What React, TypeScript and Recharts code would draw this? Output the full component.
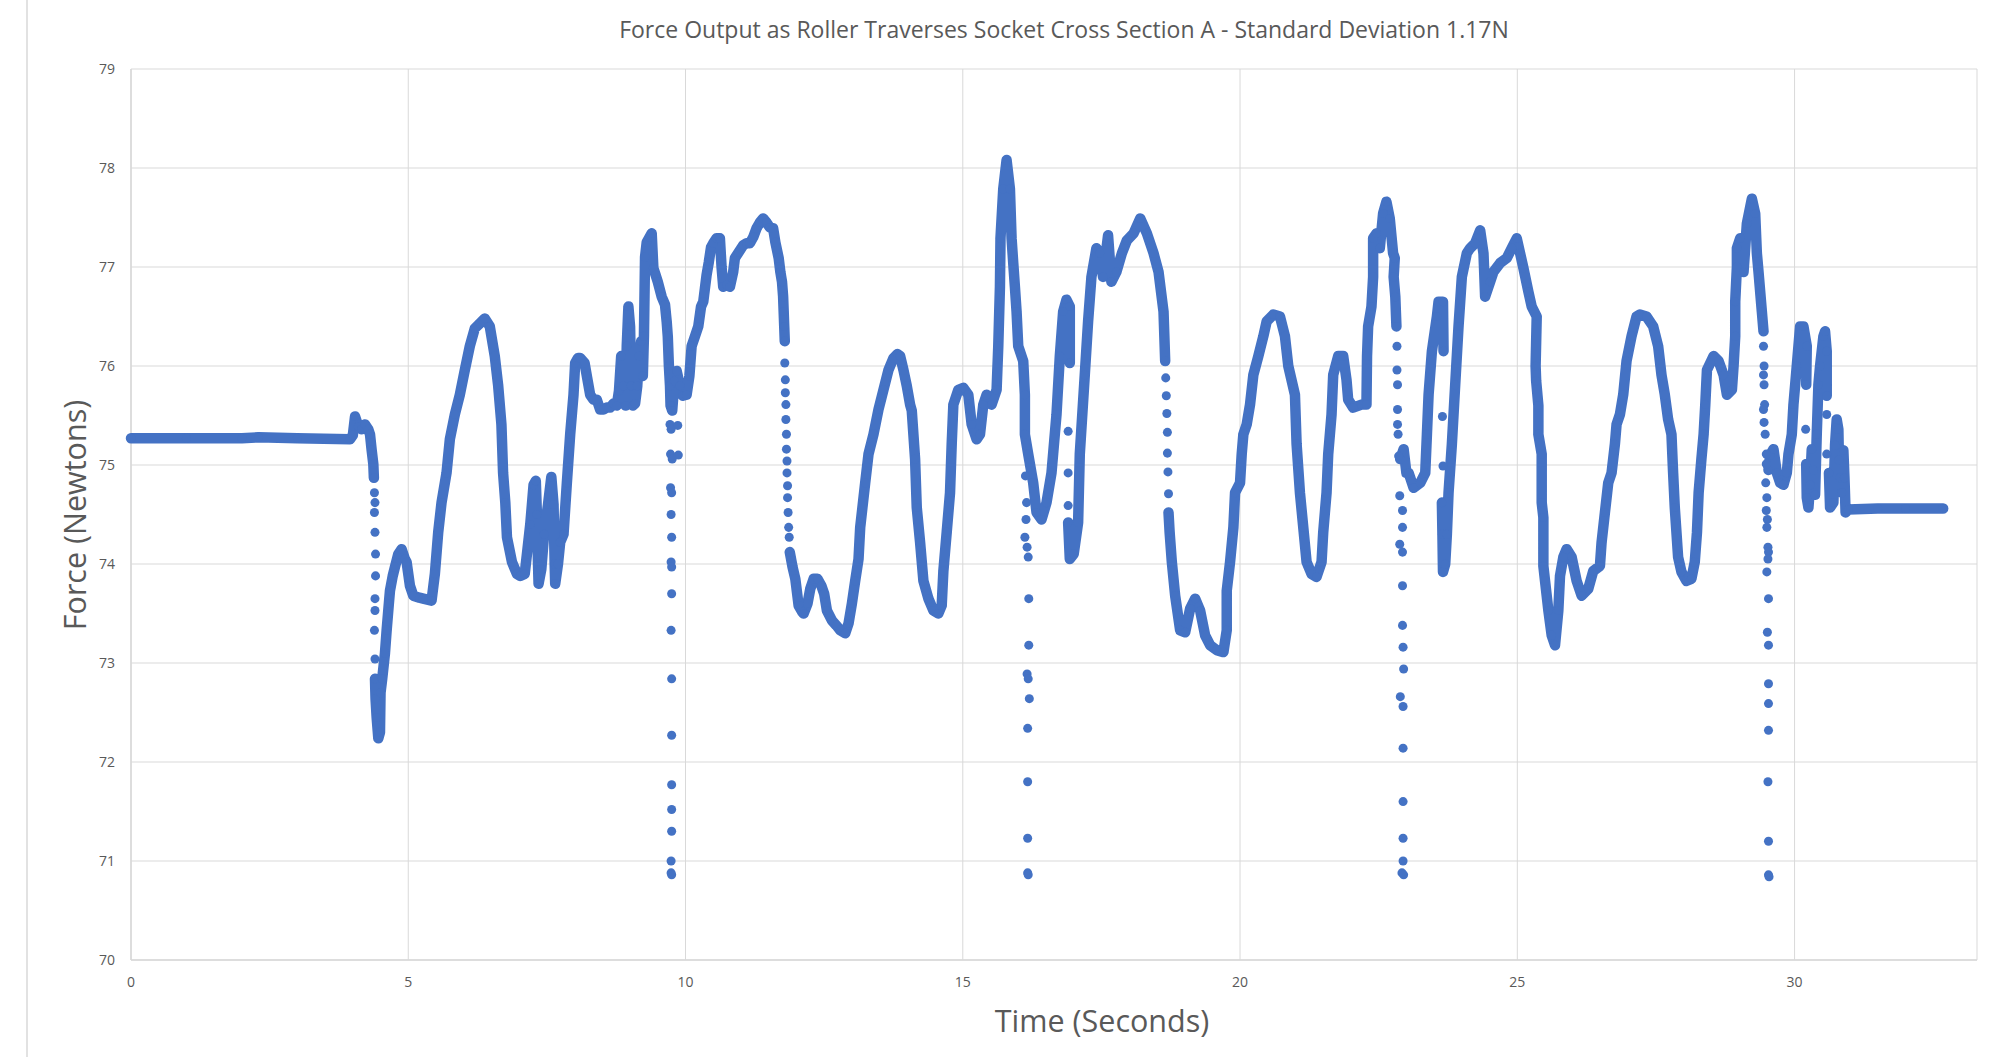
import React from 'react';
import { ScatterChart, Scatter, XAxis, YAxis, CartesianGrid, ZAxis } from 'recharts';

type Pt = [number, number];

const TITLE = 'Force Output as Roller Traverses Socket Cross Section A - Standard Deviation 1.17N';
const X_TITLE = 'Time (Seconds)';
const Y_TITLE = 'Force (Newtons)';
const X_TICKS = [0, 5, 10, 15, 20, 25, 30];
const Y_TICKS = [70, 71, 72, 73, 74, 75, 76, 77, 78, 79];
const X_DOMAIN: [number, number] = [0, 33.29];
const Y_DOMAIN: [number, number] = [70, 79];

// Continuous (densely sampled) stretches of the force trace: [time s, force N]
const traceA: Pt[] = [
  [0, 75.27], [1, 75.27], [2, 75.27], [2.3, 75.28], [3, 75.27], [3.95, 75.26], [4.0, 75.3], [4.04, 75.49],
  [4.1, 75.39], [4.16, 75.36], [4.22, 75.41], [4.28, 75.36], [4.31, 75.31], [4.34, 75.15], [4.37, 75.01], [4.38, 74.87],
];

const traceB: Pt[] = [
  [4.4, 72.84], [4.41, 72.64], [4.43, 72.45], [4.46, 72.24], [4.49, 72.3], [4.5, 72.7], [4.53, 72.84], [4.58, 73.1],
  [4.61, 73.33], [4.65, 73.6], [4.67, 73.73], [4.72, 73.88], [4.76, 73.97], [4.82, 74.1], [4.88, 74.15], [4.94, 74.05],
  [4.97, 74.02], [5.03, 73.78], [5.09, 73.68], [5.2, 73.66], [5.27, 73.65], [5.42, 73.63], [5.48, 73.9], [5.54, 74.32],
  [5.6, 74.62], [5.69, 74.92], [5.75, 75.26], [5.84, 75.51], [5.93, 75.71], [6.02, 75.96], [6.11, 76.2], [6.2, 76.38],
  [6.29, 76.43], [6.38, 76.48], [6.47, 76.4], [6.56, 76.1], [6.62, 75.81], [6.68, 75.41], [6.71, 74.92], [6.75, 74.62],
  [6.78, 74.27], [6.87, 74.02], [6.96, 73.9], [7.02, 73.88], [7.1, 73.9], [7.14, 74.1], [7.2, 74.4], [7.26, 74.8],
  [7.3, 74.84], [7.32, 74.5], [7.34, 74.0], [7.35, 73.8], [7.4, 73.95], [7.45, 74.3], [7.52, 74.6], [7.58, 74.88],
  [7.62, 74.6], [7.64, 74.0], [7.65, 73.8], [7.7, 74.0], [7.74, 74.22], [7.8, 74.3], [7.86, 74.82], [7.92, 75.31],
  [7.98, 75.71], [8.01, 76.03], [8.06, 76.08], [8.1, 76.08], [8.18, 76.03], [8.22, 75.9], [8.28, 75.71], [8.34, 75.66],
  [8.4, 75.66], [8.46, 75.56], [8.52, 75.56], [8.58, 75.58], [8.64, 75.58], [8.7, 75.62], [8.76, 75.6], [8.8, 75.75],
  [8.84, 76.1], [8.88, 75.8], [8.92, 75.6], [8.94, 76.2], [8.97, 76.6], [9.0, 76.4], [9.02, 75.8], [9.05, 75.6],
  [9.09, 75.62], [9.13, 75.8], [9.16, 76.1], [9.2, 76.25], [9.23, 75.9], [9.25, 76.3], [9.27, 77.1], [9.3, 77.25],
  [9.35, 77.3], [9.39, 77.34], [9.42, 76.99], [9.46, 76.92], [9.5, 76.85], [9.57, 76.7], [9.63, 76.62], [9.66, 76.45],
  [9.68, 76.3], [9.7, 76.0], [9.72, 75.8], [9.73, 75.6], [9.76, 75.55], [9.8, 75.85], [9.84, 75.95], [9.9, 75.8],
  [9.95, 75.7], [10.02, 75.71], [10.07, 75.9], [10.11, 76.2], [10.17, 76.3], [10.23, 76.4], [10.28, 76.6], [10.32, 76.65],
  [10.38, 76.92], [10.42, 77.05], [10.46, 77.2], [10.5, 77.24], [10.56, 77.29], [10.62, 77.29], [10.65, 77.0], [10.68, 76.8],
  [10.74, 76.82], [10.8, 76.8], [10.86, 76.95], [10.89, 77.09], [10.96, 77.15], [11.04, 77.22], [11.1, 77.24], [11.16, 77.24],
  [11.22, 77.3], [11.28, 77.39], [11.34, 77.45], [11.4, 77.49], [11.46, 77.45], [11.52, 77.4], [11.58, 77.39], [11.62, 77.25],
  [11.68, 77.09], [11.71, 76.95], [11.74, 76.85], [11.76, 76.7], [11.77, 76.55], [11.78, 76.4], [11.79, 76.25],
];

const traceC: Pt[] = [
  [11.88, 74.12], [11.93, 73.97], [11.98, 73.85], [12.04, 73.58], [12.1, 73.52], [12.13, 73.5], [12.2, 73.6], [12.25, 73.75],
  [12.31, 73.85], [12.38, 73.85], [12.45, 73.78], [12.5, 73.7], [12.55, 73.53], [12.64, 73.43], [12.72, 73.38], [12.79, 73.33],
  [12.88, 73.3], [12.94, 73.4], [13.0, 73.6], [13.06, 73.83], [13.12, 74.05], [13.15, 74.37], [13.24, 74.82], [13.3, 75.11],
  [13.39, 75.31], [13.48, 75.56], [13.57, 75.76], [13.66, 75.96], [13.75, 76.08], [13.82, 76.12], [13.87, 76.1], [13.93, 75.96],
  [13.99, 75.8], [14.05, 75.61], [14.08, 75.55], [14.14, 75.06], [14.17, 74.57], [14.23, 74.22], [14.29, 73.83], [14.38, 73.65],
  [14.47, 73.53], [14.56, 73.5], [14.62, 73.58], [14.65, 73.93], [14.71, 74.32], [14.77, 74.72], [14.8, 75.21], [14.83, 75.61],
  [14.92, 75.76], [15.01, 75.78], [15.1, 75.71], [15.16, 75.41], [15.25, 75.26], [15.31, 75.31], [15.37, 75.61], [15.43, 75.71],
  [15.52, 75.61], [15.61, 75.76], [15.64, 76.2], [15.67, 76.8], [15.68, 77.29], [15.73, 77.79], [15.79, 78.08], [15.85, 77.79],
  [15.88, 77.29], [15.91, 77.04], [15.94, 76.8], [15.97, 76.55], [16.0, 76.2], [16.09, 76.05], [16.12, 75.71], [16.12, 75.31],
  [16.18, 75.11], [16.27, 74.82], [16.33, 74.52], [16.42, 74.45], [16.51, 74.62], [16.6, 74.92], [16.69, 75.51], [16.75, 76.1],
  [16.81, 76.55], [16.87, 76.67], [16.93, 76.6], [16.93, 76.03],
];

const traceD: Pt[] = [
  [16.9, 74.42], [16.93, 74.05], [17.0, 74.1], [17.08, 74.42], [17.11, 75.11], [17.2, 75.91], [17.26, 76.45], [17.32, 76.9],
  [17.41, 77.19], [17.47, 77.14], [17.53, 76.9], [17.62, 77.32], [17.68, 76.85], [17.77, 76.95], [17.87, 77.14], [17.96, 77.27],
  [18.08, 77.34], [18.2, 77.49], [18.32, 77.34], [18.44, 77.14], [18.53, 76.95], [18.62, 76.55], [18.65, 76.05],
];

const traceE: Pt[] = [
  [18.71, 74.52], [18.73, 74.32], [18.77, 74.02], [18.83, 73.68], [18.92, 73.33], [19.01, 73.31], [19.1, 73.55], [19.19, 73.65],
  [19.28, 73.53], [19.37, 73.28], [19.46, 73.18], [19.58, 73.13], [19.7, 73.11], [19.76, 73.33], [19.76, 73.73], [19.82, 74.02],
  [19.88, 74.37], [19.91, 74.72], [20.0, 74.82], [20.03, 75.11], [20.06, 75.31], [20.12, 75.41], [20.18, 75.61], [20.24, 75.91],
  [20.33, 76.1], [20.42, 76.3], [20.48, 76.45], [20.6, 76.52], [20.72, 76.5], [20.81, 76.3], [20.87, 76.0], [20.99, 75.71],
  [21.02, 75.21], [21.08, 74.72], [21.14, 74.37], [21.2, 74.02], [21.29, 73.9], [21.38, 73.87], [21.47, 74.02], [21.5, 74.32],
  [21.56, 74.72], [21.59, 75.11], [21.65, 75.51], [21.68, 75.91], [21.77, 76.1], [21.86, 76.1], [21.92, 75.86], [21.95, 75.66],
  [22.04, 75.58], [22.19, 75.61], [22.28, 75.61], [22.29, 76.1], [22.31, 76.4], [22.37, 76.6], [22.4, 76.9], [22.4, 77.29],
  [22.46, 77.34], [22.52, 77.19], [22.58, 77.54], [22.64, 77.66], [22.7, 77.49], [22.76, 77.14], [22.79, 77.09], [22.77, 76.9],
  [22.8, 76.7], [22.82, 76.4],
];

const traceF: Pt[] = [
  [22.89, 75.06], [22.95, 75.16], [23.0, 74.92], [23.04, 74.92], [23.13, 74.77], [23.25, 74.82], [23.34, 74.92], [23.37, 75.31],
  [23.4, 75.71], [23.46, 76.15], [23.55, 76.5], [23.58, 76.65], [23.66, 76.65], [23.67, 76.15],
];

const traceG: Pt[] = [
  [23.64, 74.62], [23.65, 74.3], [23.66, 73.92], [23.7, 74.0], [23.73, 74.3], [23.76, 74.72], [23.82, 75.21], [23.88, 75.81],
  [23.94, 76.4], [24.0, 76.9], [24.09, 77.14], [24.15, 77.19], [24.24, 77.24], [24.33, 77.37], [24.39, 77.14], [24.42, 76.7],
  [24.51, 76.85], [24.57, 76.95], [24.69, 77.04], [24.81, 77.09], [24.9, 77.19], [24.99, 77.29], [25.05, 77.14], [25.11, 76.99],
  [25.2, 76.75], [25.26, 76.6], [25.35, 76.5], [25.33, 76.0], [25.34, 75.85], [25.38, 75.6], [25.38, 75.31], [25.44, 75.11],
  [25.44, 74.62], [25.47, 74.47], [25.47, 73.98], [25.5, 73.83], [25.56, 73.53], [25.62, 73.28], [25.68, 73.18], [25.74, 73.53],
  [25.77, 73.88], [25.83, 74.07], [25.89, 74.15], [25.98, 74.07], [26.07, 73.83], [26.16, 73.68], [26.28, 73.75], [26.37, 73.93],
  [26.49, 73.98], [26.52, 74.22], [26.58, 74.52], [26.64, 74.82], [26.7, 74.92], [26.76, 75.21], [26.79, 75.41], [26.85, 75.51],
  [26.91, 75.71], [26.97, 76.05], [27.06, 76.3], [27.15, 76.5], [27.21, 76.52], [27.33, 76.5], [27.45, 76.4], [27.54, 76.2],
  [27.6, 75.91], [27.66, 75.71], [27.72, 75.46], [27.78, 75.31], [27.81, 74.92], [27.84, 74.57], [27.9, 74.07], [27.96, 73.92],
  [28.05, 73.83], [28.14, 73.85], [28.2, 74.02], [28.24, 74.32], [28.27, 74.72], [28.32, 75.06], [28.36, 75.31], [28.39, 75.61],
  [28.42, 75.96], [28.54, 76.1], [28.63, 76.05], [28.72, 75.91], [28.78, 75.71], [28.87, 75.76], [28.9, 76.0], [28.93, 76.3],
  [28.93, 76.65], [28.96, 77.0], [28.96, 77.19], [29.02, 77.29], [29.08, 76.95], [29.14, 77.44], [29.23, 77.69], [29.29, 77.54],
  [29.32, 77.14], [29.35, 76.95], [29.41, 76.55], [29.44, 76.35],
];

const traceH: Pt[] = [
  [29.53, 74.95], [29.56, 75.1], [29.62, 75.16], [29.68, 74.92], [29.74, 74.82], [29.8, 74.8], [29.86, 74.92], [29.89, 75.11],
  [29.95, 75.31], [29.98, 75.61], [30.04, 76.0], [30.1, 76.4], [30.16, 76.4], [30.22, 76.2], [30.21, 75.81],
];

const traceI: Pt[] = [
  [30.21, 75.01], [30.22, 74.67], [30.25, 74.57], [30.28, 74.8], [30.31, 75.16], [30.34, 74.95], [30.37, 74.7], [30.4, 75.31],
  [30.43, 75.81], [30.46, 76.0], [30.52, 76.3], [30.55, 76.35], [30.58, 76.15], [30.58, 75.7],
];

const traceJ: Pt[] = [
  [30.62, 74.92], [30.64, 74.57], [30.7, 74.62], [30.73, 75.2], [30.76, 75.46], [30.79, 75.36], [30.8, 75.05], [30.82, 74.87],
  [30.85, 74.72], [30.88, 75.15], [30.9, 74.87], [30.92, 74.52], [30.97, 74.55], [31.5, 74.56], [32.0, 74.56], [32.68, 74.56],
];

// Individually visible samples where the force changes fast (the sharp drops)
const dropDots: Pt[] = [
  [4.39, 74.72], [4.4, 74.62], [4.39, 74.52], [4.4, 74.32], [4.41, 74.1], [4.41, 73.88], [4.4, 73.65], [4.4, 73.53],
  [4.39, 73.33], [4.4, 73.04],
  [9.72, 75.41], [9.74, 75.36], [9.73, 75.11], [9.76, 75.06], [9.73, 74.77], [9.75, 74.72], [9.74, 74.5], [9.75, 74.27],
  [9.74, 74.02], [9.75, 73.97], [9.75, 73.7], [9.74, 73.33], [9.75, 72.84], [9.75, 72.27], [9.75, 71.77], [9.75, 71.52],
  [9.75, 71.3], [9.74, 71.0], [9.74, 70.88], [9.75, 70.86], [9.86, 75.4], [9.87, 75.1],
  [11.79, 76.03], [11.8, 75.86], [11.8, 75.73], [11.81, 75.61], [11.81, 75.46], [11.82, 75.31], [11.82, 75.16], [11.83, 75.04],
  [11.83, 74.92], [11.84, 74.79], [11.84, 74.67], [11.85, 74.52], [11.86, 74.37], [11.87, 74.27],
  [16.13, 74.89], [16.15, 74.62], [16.14, 74.45], [16.12, 74.27], [16.16, 74.17], [16.18, 74.07], [16.19, 73.65], [16.19, 73.18],
  [16.16, 72.89], [16.18, 72.84], [16.2, 72.64], [16.17, 72.34], [16.17, 71.8], [16.17, 71.23], [16.17, 70.88], [16.18, 70.86],
  [16.9, 75.34], [16.9, 74.92], [16.9, 74.59],
  [18.66, 75.88], [18.67, 75.7], [18.68, 75.52], [18.69, 75.33], [18.69, 75.12], [18.7, 74.93], [18.71, 74.71],
  [22.83, 76.2], [22.83, 75.96], [22.84, 75.81], [22.84, 75.56], [22.84, 75.41], [22.85, 75.31], [22.86, 75.09], [22.88, 74.69],
  [22.93, 74.54], [22.93, 74.37], [22.88, 74.2], [22.93, 74.12], [22.93, 73.78], [22.93, 73.38], [22.94, 73.16], [22.95, 72.94],
  [22.89, 72.66], [22.94, 72.56], [22.94, 72.14], [22.94, 71.6], [22.94, 71.23], [22.94, 71.0], [22.92, 70.88], [22.95, 70.86],
  [23.65, 75.49], [23.66, 74.99],
  [29.44, 76.2], [29.45, 76.0], [29.44, 75.91], [29.45, 75.81], [29.46, 75.61], [29.44, 75.56], [29.45, 75.43], [29.47, 75.31],
  [29.49, 75.11], [29.49, 75.01], [29.48, 74.82], [29.5, 74.67], [29.49, 74.54], [29.51, 74.45], [29.5, 74.37], [29.52, 74.17],
  [29.53, 74.12], [29.52, 74.05], [29.5, 73.92], [29.53, 73.65], [29.51, 73.31], [29.53, 73.18], [29.53, 72.79], [29.53, 72.59],
  [29.53, 72.32], [29.52, 71.8], [29.53, 71.2], [29.53, 70.86], [29.54, 70.84],
  [30.2, 75.36], [30.58, 75.51], [30.58, 75.11],
];

const traces: Pt[][] = [traceA, traceB, traceC, traceD, traceE, traceF, traceG, traceH, traceI, traceJ];

const BLUE = '#4472C4';
const GRID = '#d9d9d9';
const TEXT = '#595959';
const FONT = '"Open Sans", "Noto Sans", sans-serif';

const rows = (pts: Pt[]) => pts.map(([t, f]) => ({ t, f }));

export default function App() {
  return (
    <div style={{ position: 'absolute', left: 0, top: 0, width: 1997, height: 1057, background: '#ffffff', fontFamily: FONT }}>
      <ScatterChart width={1997} height={1057} margin={{ top: 69, right: 20, bottom: 57, left: 71 }}>
        <CartesianGrid stroke={GRID} strokeWidth={1} />
        <XAxis
          type="number"
          dataKey="t"
          domain={X_DOMAIN}
          ticks={X_TICKS}
          interval={0}
          height={40}
          axisLine={{ stroke: GRID, strokeWidth: 1.5 }}
          tickLine={false}
          tickSize={0}
          tickMargin={17}
          tick={{ fill: TEXT, fontSize: 14, fontFamily: FONT }}
        />
        <YAxis
          type="number"
          dataKey="f"
          domain={Y_DOMAIN}
          ticks={Y_TICKS}
          interval={0}
          width={60}
          axisLine={{ stroke: GRID, strokeWidth: 1.5 }}
          tickLine={false}
          tickSize={0}
          tickMargin={16}
          tick={{ fill: TEXT, fontSize: 14, fontFamily: FONT }}
        />
        <ZAxis range={[80, 80]} />
        {traces.map((seg, i) => (
          <Scatter
            key={`trace-${i}`}
            data={rows(seg)}
            fill={BLUE}
            line={{ stroke: BLUE, strokeWidth: 10.5, strokeLinejoin: 'round', strokeLinecap: 'round', fill: 'none' }}
            lineType="joint"
            isAnimationActive={false}
          />
        ))}
        <Scatter data={rows(dropDots)} fill={BLUE} isAnimationActive={false} />
      </ScatterChart>
      <svg
        width={1997}
        height={1057}
        style={{ position: 'absolute', left: 0, top: 0, pointerEvents: 'none' }}
      >
        <line x1={27} y1={0} x2={27} y2={1057} stroke={GRID} strokeWidth={1.5} />
        <text x={1064} y={29} textAnchor="middle" dominantBaseline="central" fill={TEXT} fontSize={23} fontFamily={FONT}>
          {TITLE}
        </text>
        <text x={1102} y={1020} textAnchor="middle" dominantBaseline="central" fill={TEXT} fontSize={30.5} fontFamily={FONT}>
          {X_TITLE}
        </text>
        <text
          x={74}
          y={515}
          textAnchor="middle"
          dominantBaseline="central"
          fill={TEXT}
          fontSize={30.5}
          fontFamily={FONT}
          transform="rotate(-90 74 515)"
        >
          {Y_TITLE}
        </text>
      </svg>
    </div>
  );
}
